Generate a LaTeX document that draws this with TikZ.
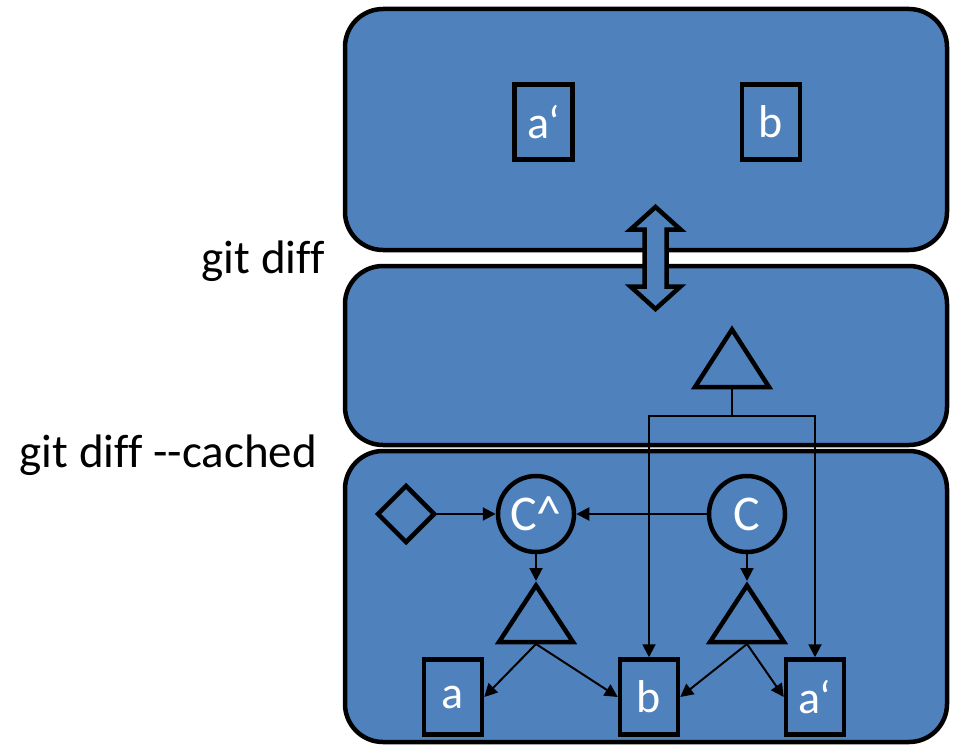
\documentclass[tikz,border=0pt]{standalone}
\usepackage{fontspec}
\setmainfont{Carlito}[Ligatures={NoCommon}]
\usetikzlibrary{shapes.geometric,arrows.meta}
\definecolor{panelblue}{HTML}{4F81BD}

\begin{document}
\begin{tikzpicture}[x=1pt,y=-1pt,
  panel/.style={rectangle, draw=black, line width=4.5pt, fill=panelblue,
    rounded corners=38pt, inner sep=0pt, minimum width=602pt},
  filebox/.style={rectangle, draw=black, line width=4.5pt, inner sep=0pt,
    minimum width=58pt, minimum height=75pt, text=white,
    font=\fontsize{46}{46}\selectfont},
  commit/.style={circle, draw=black, line width=4.5pt, inner sep=0pt,
    minimum size=76pt, text=white, font=\fontsize{50}{50}\selectfont},
  tagmark/.style={diamond, draw=black, line width=4.5pt, inner sep=0pt,
    minimum width=58pt, minimum height=58pt},
  treeshape/.style={draw=black, line width=4.5pt, line join=miter, fill=panelblue},
  link/.style={draw=black, line width=2pt, -{Triangle[length=13pt,width=13pt]}},
  plainlink/.style={draw=black, line width=2pt},
  cmd/.style={font=\fontsize{47}{47}\selectfont, anchor=base east, inner sep=0pt}
]
\useasboundingbox (0,0) rectangle (957,746);
\clip (0,0) rectangle (957,746);

% three areas: working directory, index, repository
\node[panel, minimum height=241pt] (work) at (646,129.5) {};
\node[panel, minimum height=179pt] (index) at (646,355.5) {};
\node[panel, minimum height=291pt] (repo) at (646,596.5) {};

% command labels
\node[cmd] (diff) at (325,273) {git diff};
\node[cmd] (cached) at (317,467) {git diff -{}-cached};

% files in the working directory
\node[filebox] (wa) at (543.5,122) {a‘};
\node[filebox] (wb) at (771,122) {b};

% double arrow between working directory and index
\draw[treeshape] (655.5,207) -- (680.5,229.5) -- (666.5,229.5) -- (666.5,286.5)
  -- (680.5,286.5) -- (655.5,309) -- (630.5,286.5) -- (644.5,286.5)
  -- (644.5,229.5) -- (630.5,229.5) -- cycle;

% tree held in the index
\draw[treeshape] (732,329.5) -- (769,387) -- (695,387) -- cycle;
\coordinate (ifoot) at (732,389);
\coordinate (split) at (732,416);

% repository: tag, commits, trees and blobs
\node[tagmark] (tag) at (406,514) {};
\node[commit] (chat) at (536,514) {C\textasciicircum};
\node[commit] (c) at (747,514) {C};

\draw[treeshape] (536,585.5) -- (573,642) -- (499,642) -- cycle;
\coordinate (t1top) at (536,581);
\coordinate (t1foot) at (536,644);
\draw[treeshape] (747,585.5) -- (784,642) -- (710,642) -- cycle;
\coordinate (t2top) at (747,581);
\coordinate (t2foot) at (747,644);

\node[filebox] (ra) at (453,697) {a};
\node[filebox] (rb) at (649,697) {b};
\node[filebox] (rap) at (815,697) {a‘};

% connectors
\draw[link] (tag) -- (chat);
\draw[link] (c) -- (chat);
\draw[link] (chat) -- (t1top);
\draw[link] (c) -- (t2top);
\draw[link] (t1foot) -- (ra.east);
\draw[link] (t1foot) -- (rb.west);
\draw[link] (t2foot) -- (rb.east);
\draw[link] (t2foot) -- (rap.west);

\draw[plainlink] (ifoot) -- (split);
\draw[link] (split) -| (rb.north);
\draw[link] (split) -| (rap.north);
\end{tikzpicture}
\end{document}
